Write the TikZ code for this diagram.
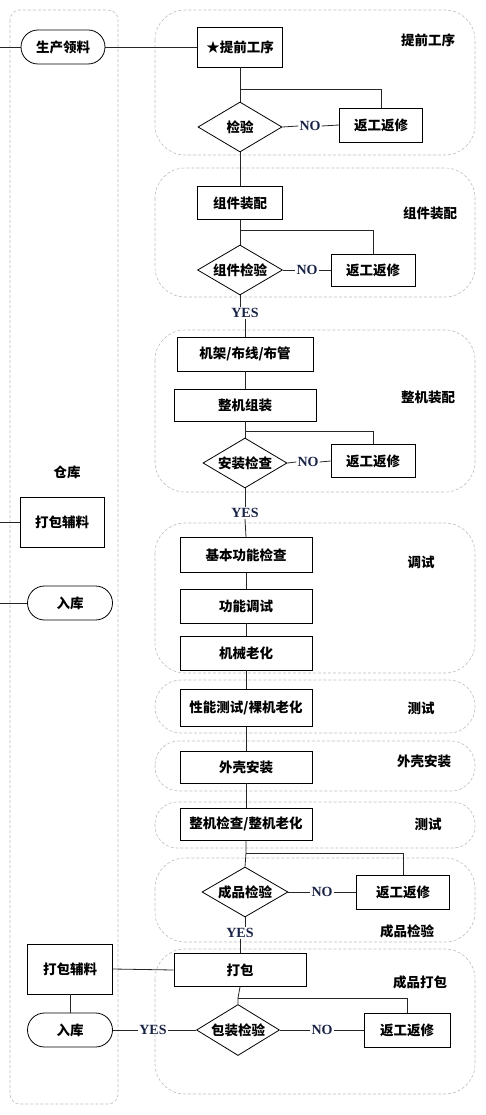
\documentclass[tikz,border=0pt]{standalone}
\usepackage{fontspec}
\usetikzlibrary{shapes.geometric,shapes.misc}
\newfontfamily\cjk{Noto Sans CJK SC}
\newfontfamily\tms{Liberation Serif}
\definecolor{yncol}{RGB}{25,35,70}
\definecolor{contcol}{RGB}{190,190,190}
\tikzset{
  cont/.style={draw=contcol, densely dashed, line width=0.6pt},
  box/.style={draw, line width=0.8pt, rectangle, inner sep=0pt, font=\cjk\bfseries\fontsize{13.5}{16}\selectfont},
  dia/.style={draw, line width=0.8pt, diamond, aspect=1.7, inner sep=0pt, minimum width=84pt, minimum height=50pt, font=\cjk\bfseries\fontsize{13.5}{16}\selectfont},
  term/.style={draw, line width=0.8pt, rounded rectangle, inner sep=0pt, minimum width=84pt, minimum height=34pt, font=\cjk\bfseries\fontsize{13.5}{16}\selectfont},
  lbl/.style={inner sep=1pt, font=\cjk\bfseries\fontsize{13.5}{16}\selectfont},
  yn/.style={inner sep=1pt, text=yncol, font=\tms\bfseries\fontsize{14}{16}\selectfont},
  ln/.style={draw=black!85, line width=0.8pt},
}
\begin{document}
\begin{tikzpicture}[x=1pt,y=-1pt]
\useasboundingbox (0,0) rectangle (485,1115);
% containers
\draw[cont, rounded corners=10pt] (10,10) rectangle (118,1104);
\draw[cont, rounded corners=30pt] (155,10) rectangle (475,155);
\draw[cont, rounded corners=30pt] (155,168) rectangle (475,297);
\draw[cont, rounded corners=30pt] (155,330) rectangle (475,492);
\draw[cont, rounded corners=30pt] (155,523) rectangle (475,673);
\draw[cont, rounded corners=26pt] (155,680) rectangle (475,733);
\draw[cont, rounded corners=24pt] (155,741) rectangle (475,791);
\draw[cont, rounded corners=22pt] (155,802) rectangle (475,848);
\draw[cont, rounded corners=30pt] (155,858) rectangle (475,942);
\draw[cont, rounded corners=30pt] (155,949) rectangle (475,1094);

% group labels
\node[lbl] (g1) at (428,40) {提前工序};
\node[lbl] (g2) at (430,213) {组件装配};
\node[lbl] (g3) at (428,397) {整机装配};
\node[lbl] (g4) at (421,562) {调试};
\node[lbl] (g5) at (421,708) {测试};
\node[lbl] (g6) at (424,761) {外壳安装};
\node[lbl] (g7) at (428,824) {测试};
\node[lbl] (g8) at (407,931) {成品检验};
\node[lbl] (g9) at (420,982) {成品打包};
\node[lbl] (ck) at (67,472) {仓库};

% warehouse nodes
\node[term] (ll) at (63,47) {生产领料};
\node[box, minimum width=84pt, minimum height=50pt] (aux1) at (62,522) {打包辅料};
\node[term, minimum width=85pt] (rk1) at (70,603) {入库};
\node[box, minimum width=85pt, minimum height=50pt] (aux2) at (70,969) {打包辅料};
\node[term, minimum width=85pt] (rk2) at (70,1030) {入库};

% section 1
\node[box, minimum width=85pt, minimum height=40pt] (pre) at (240,47) {★提前工序};
\node[dia] (d1) at (240,127) {检验};
\node[box, minimum width=83pt, minimum height=34pt] (r1) at (381,125) {返工返修};
\node[yn] (no1) at (310,126) {NO};
% section 2
\node[box, minimum width=85pt, minimum height=33pt] (asm) at (240,203) {组件装配};
\node[dia, minimum width=85pt] (d2) at (240,270) {组件检验};
\node[box, minimum width=84pt, minimum height=32pt] (r2) at (373,270) {返工返修};
\node[yn] (no2) at (307,270) {NO};
\node[yn] (yes2) at (245,313) {YES};
% section 3
\node[box, minimum width=136pt, minimum height=34pt] (frame) at (245,354) {机架/布线/布管};
\node[box, minimum width=142pt, minimum height=32pt] (whole) at (245,405) {整机组装};
\node[dia] (d3) at (245,463) {安装检查};
\node[box, minimum width=84pt, minimum height=33pt] (r3) at (373,461) {返工返修};
\node[yn] (no3) at (308,462) {NO};
\node[yn] (yes3) at (245,513) {YES};
% section 4-7
\node[box, minimum width=132pt, minimum height=35pt] (basic) at (246,555) {基本功能检查};
\node[box, minimum width=132pt, minimum height=34pt] (func) at (246,606) {功能调试};
\node[box, minimum width=132pt, minimum height=34pt] (mech) at (246,653) {机械老化};
\node[box, minimum width=132pt, minimum height=37pt] (perf) at (246,708) {性能测试/裸机老化};
\node[box, minimum width=132pt, minimum height=32pt] (shell) at (246,767) {外壳安装};
\node[box, minimum width=132pt, minimum height=32pt] (check) at (246,824) {整机检查/整机老化};
% section 8
\node[dia, minimum width=86pt] (d4) at (245,892) {成品检验};
\node[box, minimum width=93pt, minimum height=34pt] (r4) at (403,892) {返工返修};
\node[yn] (no4) at (322,892) {NO};
\node[yn] (yes4) at (240,933) {YES};
% section 9
\node[box, minimum width=132pt, minimum height=33pt] (pack) at (240,970) {打包};
\node[dia, minimum width=83pt, minimum height=51pt] (d5) at (238,1030) {包装检验};
\node[box, minimum width=86pt, minimum height=34pt] (r5) at (407,1030) {返工返修};
\node[yn] (no5) at (322,1030) {NO};
\node[yn] (yes5) at (153,1030) {YES};

% coordinates
\coordinate (e0) at (0,47);
\coordinate (e1) at (0,522);
\coordinate (e2) at (0,603);
\coordinate (j1) at (240,89);
\coordinate (j2) at (240,230);
\coordinate (j3) at (245,431);
\coordinate (j4) at (246,853);
\coordinate (j5) at (238,998);

% connectors
\draw[ln] (e0) -- (ll.west);
\draw[ln] (ll.east) -- (pre.west);
\draw[ln] (pre.south) -- (d1.north);
\draw[ln] (j1) -| (r1.north);
\draw[ln] (d1.east) -- (no1.west);
\draw[ln] (no1.east) -- (r1.west);
\draw[ln] (d1.south) -- (asm.north);
\draw[ln] (asm.south) -- (d2.north);
\draw[ln] (j2) -| (r2.north);
\draw[ln] (d2.east) -- (no2.west);
\draw[ln] (no2.east) -- (r2.west);
\draw[ln] (d2.south) -- (d2.south |- yes2.north);
\draw[ln] (yes2.south) -- (frame.north);
\draw[ln] (frame.south) -- (whole.north);
\draw[ln] (whole.south) -- (d3.north);
\draw[ln] (j3) -| (r3.north);
\draw[ln] (d3.east) -- (no3.west);
\draw[ln] (no3.east) -- (r3.west);
\draw[ln] (d3.south) -- (yes3.north);
\draw[ln] (yes3.south) -- (basic.north);
\draw[ln] (basic.south) -- (func.north);
\draw[ln] (func.south) -- (mech.north);
\draw[ln] (mech.south) -- (perf.north);
\draw[ln] (perf.south) -- (shell.north);
\draw[ln] (shell.south) -- (check.north);
\draw[ln] (check.south) -- (j4) -- (d4.north);
\draw[ln] (j4) -| (r4.north);
\draw[ln] (d4.east) -- (no4.west);
\draw[ln] (no4.east) -- (r4.west);
\draw[ln] (d4.south) -- (d4.south |- yes4.north);
\draw[ln] (yes4.south) -- (pack.north);
\draw[ln] (pack.south) -- (j5) -- (d5.north);
\draw[ln] (j5) -| (r5.north);
\draw[ln] (d5.east) -- (no5.west);
\draw[ln] (no5.east) -- (r5.west);
\draw[ln] (d5.west) -- (yes5.east);
\draw[ln] (yes5.west) -- (rk2.east);
\draw[ln] (aux2.east) -- (pack.west);
\draw[ln] (aux2.south) -- (rk2.north);
\draw[ln] (e1) -- (aux1.west);
\draw[ln] (e2) -- (rk1.west);
\end{tikzpicture}
\end{document}
